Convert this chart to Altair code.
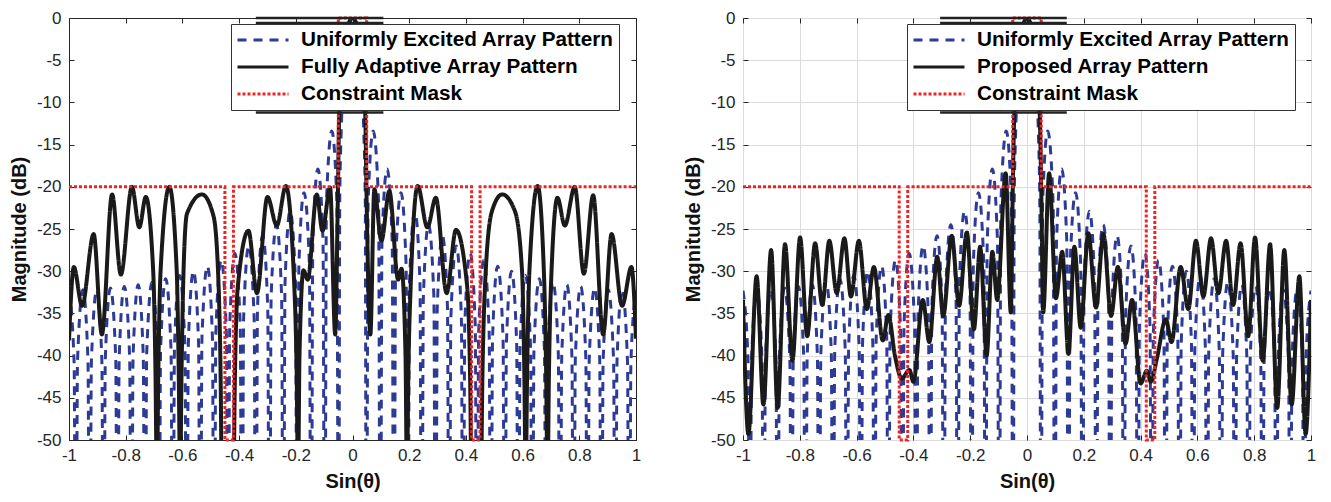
import altair as alt
import pandas as pd

# ---------------- data ----------------
x_ticks = [-1, -0.8, -0.6, -0.4, -0.2, 0, 0.2, 0.4, 0.6, 0.8, 1]
y_ticks = [-50, -45, -40, -35, -30, -25, -20, -15, -10, -5, 0]

uniform_label = "Uniformly Excited Array Pattern"
adaptive_label = "Fully Adaptive Array Pattern"
proposed_label = "Proposed Array Pattern"
mask_label = "Constraint Mask"

# uniformly excited pattern, u >= 0 half (pattern is symmetric)
blue_u_half = [0, 0.012, 0.022, 0.032, 0.040, 0.045, 0.049,
               0.055, 0.073, 0.092, 0.098,
               0.104, 0.122, 0.140, 0.146,
               0.152, 0.171, 0.189, 0.195,
               0.201, 0.220, 0.238, 0.244,
               0.250, 0.268, 0.287, 0.293,
               0.299, 0.317, 0.335, 0.341,
               0.347, 0.366, 0.384, 0.390,
               0.396, 0.415, 0.433, 0.439,
               0.445, 0.463, 0.482, 0.488,
               0.494, 0.512, 0.531, 0.537,
               0.543, 0.561, 0.579, 0.585,
               0.591, 0.610, 0.628, 0.634,
               0.640, 0.659, 0.677, 0.683,
               0.689, 0.707, 0.726, 0.732,
               0.738, 0.756, 0.774, 0.780,
               0.786, 0.805, 0.823, 0.829,
               0.835, 0.854, 0.872, 0.878,
               0.884, 0.902, 0.921, 0.927,
               0.933, 0.951, 0.970, 0.976,
               0.982, 1.0]
blue_db_half = [0, -0.8, -3.1, -7.4, -13.6, -21.6, -80,
                -21.9, -13.4, -21.9, -80,
                -26.4, -17.9, -26.4, -80,
                -29.2, -20.7, -29.2, -80,
                -31.4, -22.9, -31.4, -80,
                -33.0, -24.5, -33.0, -80,
                -34.3, -25.8, -34.3, -80,
                -35.5, -27.0, -35.5, -80,
                -36.4, -27.9, -36.4, -80,
                -37.2, -28.7, -37.2, -80,
                -37.9, -29.4, -37.9, -80,
                -38.5, -30.0, -38.5, -80,
                -39.0, -30.5, -39.0, -80,
                -39.4, -30.9, -39.4, -80,
                -39.8, -31.3, -39.8, -80,
                -40.1, -31.6, -40.1, -80,
                -40.3, -31.8, -40.3, -80,
                -40.5, -32.0, -40.5, -80,
                -40.7, -32.2, -40.7, -80,
                -40.7, -32.2, -40.7, -80,
                -40.8, -32.3]

# fully adaptive array pattern (left panel)
adaptive_u = [-1.000, -0.983, -0.954, -0.913, -0.884, -0.848, -0.817, -0.778, -0.752, -0.729,
              -0.703, -0.695, -0.690, -0.685, -0.677, -0.646, -0.620, -0.613, -0.608, -0.603,
              -0.596, -0.584, -0.531, -0.490, -0.472, -0.465, -0.461, -0.420, -0.415, -0.405,
              -0.367, -0.337, -0.300, -0.267, -0.235, -0.205, -0.197, -0.192, -0.187, -0.173,
              -0.158, -0.126, -0.106, -0.079, -0.061, -0.052, -0.047, -0.035, -0.020, 0.000,
              0.020, 0.035, 0.045, 0.050, 0.063, 0.077, 0.102, 0.130, 0.161, 0.173,
              0.187, 0.192, 0.197, 0.205, 0.230, 0.264, 0.294, 0.332, 0.365, 0.405,
              0.415, 0.420, 0.453, 0.458, 0.467, 0.491, 0.528, 0.573, 0.598, 0.606,
              0.611, 0.616, 0.624, 0.653, 0.675, 0.683, 0.688, 0.693, 0.702, 0.723,
              0.749, 0.784, 0.816, 0.849, 0.884, 0.914, 0.951, 0.984, 1.000]
adaptive_db = [-38.2, -29.5, -34.1, -25.6, -37.5, -20.9, -30.4, -20.0, -24.8, -21.2,
               -30.0, -42.0, -55.0, -42.0, -30.0, -20.0, -30.0, -42.0, -55.0, -42.0,
               -30.0, -23.2, -20.9, -23.5, -32.0, -43.0, -55.0, -55.0, -43.0, -32.0,
               -25.2, -32.6, -21.2, -24.6, -19.9, -32.0, -42.0, -55.0, -40.0, -29.9,
               -31.0, -20.9, -25.2, -20.1, -37.5, -22.0, -11.5, -5.0, -1.4, 0.0,
               -1.4, -5.0, -11.5, -22.0, -37.5, -20.3, -26.4, -20.5, -31.0, -29.7,
               -40.0, -55.0, -42.0, -32.0, -19.9, -24.8, -21.3, -32.6, -25.1, -32.0,
               -43.0, -55.0, -55.0, -43.0, -32.0, -23.0, -20.9, -22.9, -30.0, -42.0,
               -55.0, -42.0, -30.0, -19.9, -30.0, -42.0, -55.0, -42.0, -30.0, -21.3,
               -24.6, -20.0, -30.3, -21.0, -37.5, -25.6, -34.1, -29.5, -38.0]

# proposed array pattern (right panel)
proposed_u = [-1.000, -0.981, -0.952, -0.928, -0.901, -0.878, -0.852, -0.826, -0.799, -0.774,
              -0.746, -0.721, -0.696, -0.670, -0.643, -0.620, -0.592, -0.564, -0.539, -0.508,
              -0.488, -0.465, -0.441, -0.414, -0.400, -0.367, -0.344, -0.316, -0.295, -0.265,
              -0.239, -0.212, -0.187, -0.165, -0.142, -0.122, -0.105, -0.075, -0.057, -0.050,
              -0.045, -0.033, -0.018, 0.000, 0.018, 0.033, 0.045, 0.050, 0.057, 0.078,
              0.102, 0.124, 0.146, 0.167, 0.189, 0.216, 0.243, 0.269, 0.296, 0.320,
              0.347, 0.370, 0.400, 0.422, 0.436, 0.457, 0.489, 0.509, 0.541, 0.568,
              0.595, 0.621, 0.648, 0.674, 0.701, 0.726, 0.752, 0.779, 0.803, 0.830,
              0.856, 0.881, 0.906, 0.932, 0.959, 0.981, 1.000]
proposed_db = [-33.4, -49.3, -30.6, -45.8, -27.5, -46.2, -26.8, -40.6, -26.0, -37.7,
               -26.7, -34.0, -26.4, -32.6, -26.1, -33.0, -26.4, -34.5, -29.5, -38.2,
               -35.2, -40.0, -42.7, -41.7, -43.1, -33.4, -38.4, -28.3, -35.3, -25.8,
               -34.1, -25.4, -36.9, -27.1, -40.0, -27.7, -33.4, -18.4, -34.9, -20.0,
               -11.5, -4.5, -1.4, 0.0, -1.4, -4.5, -11.5, -20.0, -34.9, -18.4,
               -33.2, -27.7, -39.8, -27.1, -36.7, -25.5, -34.3, -25.6, -35.3, -29.5,
               -38.6, -33.4, -43.3, -41.8, -43.1, -40.4, -35.7, -38.4, -29.5, -34.5,
               -26.4, -33.0, -26.1, -32.6, -26.4, -34.0, -26.7, -37.7, -26.0, -40.6,
               -26.8, -46.2, -27.5, -45.8, -30.6, -49.3, -33.4]

# constraint mask
mask_u = [-1, -0.45, -0.45, -0.42, -0.42, -0.05, -0.05, 0.05, 0.05, 0.42, 0.42, 0.45, 0.45, 1]
mask_db = [-20, -20, -50, -50, -20, -20, 0, 0, -20, -20, -50, -50, -20, -20]

# stray black bars that appear around the legend in the figure
artifact_left_u = [-0.341, 0.109]
artifact_right_u = [-0.306, 0.140]
artifact_db = [0, -0.6, -11.2]

# ---------------- styling ----------------
BLUE = "#2d3a96"
BLACK = "#1a1a1a"
RED = "#ee2424"
FONT = "Liberation Sans"
LBL = "datum.value < 0 ? '-' + format(-datum.value, '~g') : format(datum.value, '~g')"

blue_u = [-u for u in reversed(blue_u_half) if u > 0] + blue_u_half
blue_db = [d for u, d in zip(reversed(blue_u_half), reversed(blue_db_half)) if u > 0] + blue_db_half


def panel(black_u, black_db, black_label, grid, legend_x, art_u, width):
    domain = [uniform_label, black_label, mask_label]
    leg = alt.Legend(title=None, orient="none", legendX=legend_x, legendY=6,
                     direction="vertical", symbolType="stroke", symbolSize=2601,
                     symbolStrokeWidth=3, labelFont=FONT, labelFontSize=20.7,
                     labelFontWeight="bold", labelColor="#000000", labelLimit=500,
                     labelOffset=11, padding=5, clipHeight=22, rowPadding=5,
                     strokeColor="#333333", fillColor="white", cornerRadius=0)
    color = alt.Color("series:N", scale=alt.Scale(domain=domain, range=[BLUE, BLACK, RED]), legend=leg)
    dash = alt.StrokeDash("series:N", scale=alt.Scale(domain=domain, range=[[9, 7], [1, 0], [3, 2]]), legend=leg)

    xs = alt.Scale(domain=[-1, 1], nice=False, zero=False)
    ys = alt.Scale(domain=[-50, 0], nice=False, zero=False)

    ax_bottom = alt.Axis(values=x_ticks, title="Sin(θ)", grid=grid, domain=False, offset=-5,
                         tickSize=5, labelPadding=7, titlePadding=8, labelFlush=False,
                         labelOverlap=False, labelExpr=LBL)
    ax_left = alt.Axis(values=y_ticks, title="Magnitude (dB)", grid=grid, domain=False, offset=-5,
                       tickSize=5, labelPadding=8, titlePadding=7, labelFlush=False,
                       labelOverlap=False, labelExpr=LBL)
    ax_top = alt.Axis(values=x_ticks, orient="top", title=None, labels=False, grid=False,
                      domain=False, offset=-5, tickSize=5)
    ax_right = alt.Axis(values=y_ticks, orient="right", title=None, labels=False, grid=False,
                        domain=False, offset=-5, tickSize=5)

    blue_df = pd.DataFrame({"u": blue_u, "db": blue_db, "series": uniform_label})
    black_df = pd.DataFrame({"u": black_u, "db": black_db, "series": black_label})
    mask_df = pd.DataFrame({"u": mask_u, "db": mask_db, "idx": list(range(len(mask_u))),
                            "series": mask_label})
    art_df = pd.DataFrame({"u0": art_u[0], "u1": art_u[1], "db": artifact_db})

    blue = alt.Chart(blue_df).mark_line(clip=True, interpolate="monotone", strokeWidth=3).encode(
        x=alt.X("u:Q", scale=xs, axis=ax_bottom),
        y=alt.Y("db:Q", scale=ys, axis=ax_left),
        color=color, strokeDash=dash)
    black = alt.Chart(black_df).mark_line(clip=True, interpolate="monotone", strokeWidth=4).encode(
        x=alt.X("u:Q", scale=xs, axis=ax_top),
        y=alt.Y("db:Q", scale=ys, axis=ax_right),
        color=color, strokeDash=dash)
    red = alt.Chart(mask_df).mark_line(strokeWidth=3).encode(
        x=alt.X("u:Q", scale=xs, axis=None),
        y=alt.Y("db:Q", scale=ys, axis=None),
        order="idx:Q", color=color, strokeDash=dash)
    art = alt.Chart(art_df).mark_rule(color="#222222", strokeWidth=2.5).encode(
        x=alt.X("u0:Q", scale=xs, axis=None),
        x2="u1:Q",
        y=alt.Y("db:Q", scale=ys, axis=None))

    return alt.layer(blue, black, red, art).resolve_axis(
        x="independent", y="independent").properties(width=width, height=422)


left = panel(adaptive_u, adaptive_db, adaptive_label, False, 162, artifact_left_u, 567)
right = panel(proposed_u, proposed_db, proposed_label, True, 164, artifact_right_u, 568)

chart = alt.hconcat(left, right, spacing=39).resolve_scale(
    color="independent", strokeDash="independent"
).properties(padding=0).configure_view(
    stroke="#262626", strokeWidth=1
).configure_axis(
    labelFont=FONT, labelFontSize=17, labelColor="#262626",
    titleFont=FONT, titleFontSize=20, titleFontWeight="bold", titleColor="#111111",
    tickColor="#262626", gridColor="#dcdcdc", gridWidth=1
)

chart.save("out.html", embed_options={"renderer": "svg", "actions": False})
